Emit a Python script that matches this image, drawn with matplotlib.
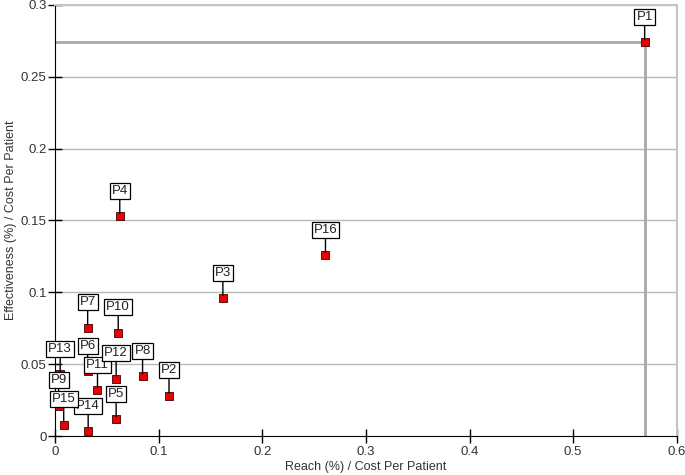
import matplotlib.pyplot as plt

# programme points: reach / cost vs effectiveness / cost
names = ['P1', 'P2', 'P3', 'P4', 'P5', 'P6', 'P7', 'P8',
         'P9', 'P10', 'P11', 'P12', 'P13', 'P14', 'P15', 'P16']
reach = [0.569, 0.110, 0.162, 0.0625, 0.059, 0.0315, 0.0315, 0.0845,
         0.0035, 0.061, 0.041, 0.059, 0.005, 0.032, 0.0084, 0.261]
effect = [0.274, 0.028, 0.096, 0.153, 0.0116, 0.045, 0.0754, 0.0415,
          0.021, 0.0719, 0.032, 0.040, 0.043, 0.0035, 0.0079, 0.126]

best = 0  # P1 gets the reference crosshair

plt.rcParams['font.family'] = ['Liberation Sans', 'DejaVu Sans']

fig = plt.figure(figsize=(6.85, 4.75), dpi=100)
ax = fig.add_axes([0.0803, 0.0821, 0.9077, 0.9074])

ax.set_xlim(0, 0.6)
ax.set_ylim(0, 0.3)

# horizontal grid only
for yv in [0.05, 0.1, 0.15, 0.2, 0.25, 0.3]:
    ax.axhline(yv, color='#b3bdb3', lw=1, zorder=1)

# crosshair for the top point
ax.plot([0, reach[best]], [effect[best], effect[best]], color='#a8a8a8', lw=2, zorder=2)
ax.plot([reach[best], reach[best]], [0, effect[best]], color='#a8a8a8', lw=2, zorder=2)

ax.scatter(reach, effect, marker='s', s=30, color='#ee0000', edgecolors='#400000',
           linewidths=0.6, zorder=3)

for n, x, y in zip(names, reach, effect):
    ax.annotate(n, (x, y), xytext=(0, 14), textcoords='offset points',
                ha='center', va='bottom', fontsize=9.5, color='#222222',
                bbox=dict(boxstyle='square,pad=0.15', fc='white', ec='black', lw=0.9),
                arrowprops=dict(arrowstyle='-', color='black', lw=1,
                                shrinkA=0, shrinkB=2),
                zorder=4)

for s in ['top', 'right']:
    ax.spines[s].set_color('#c4c4c4')
    ax.spines[s].set_linewidth(1.5)
for s in ['left', 'bottom']:
    ax.spines[s].set_color('black')

ax.set_xticks([0, 0.1, 0.2, 0.3, 0.4, 0.5, 0.6])
ax.set_xticklabels(['0', '0.1', '0.2', '0.3', '0.4', '0.5', '0.6'])
ax.set_yticks([0, 0.05, 0.1, 0.15, 0.2, 0.25, 0.3])
ax.set_yticklabels(['0', '0.05', '0.1', '0.15', '0.2', '0.25', '0.3'])
ax.tick_params(direction='inout', length=10, width=1, labelsize=9.5,
               labelcolor='#333333', pad=1)
ax.tick_params(axis='x', pad=2)

ax.set_xlabel('Reach (%) / Cost Per Patient', fontsize=9, color='#333333', labelpad=2)
ax.set_ylabel('Effectiveness (%) / Cost Per Patient', fontsize=9, color='#333333', labelpad=3)

fig.savefig('out.png', dpi=100)
